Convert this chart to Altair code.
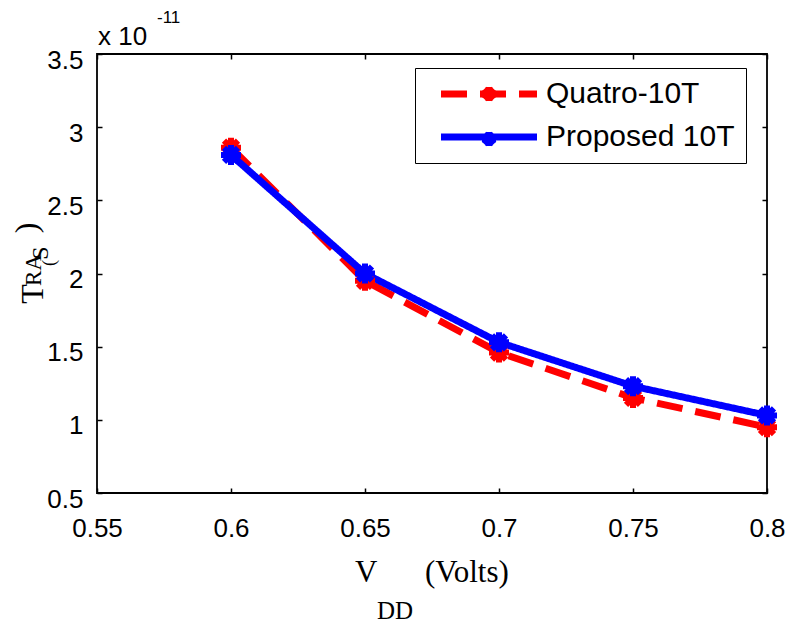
import altair as alt
import pandas as pd

# Supply voltage (V) and read access time (x 1e-11 s) for the two cells
vdd = [0.6, 0.65, 0.7, 0.75, 0.8]
quatro = [2.86, 1.95, 1.46, 1.15, 0.95]
proposed = [2.81, 2.00, 1.53, 1.23, 1.03]
series_names = ["Quatro-10T", "Proposed 10T"]
series_colors = ["#ff0000", "#0000ff"]
series_dash = [[26, 13], [1, 0]]

x_ticks = [0.55, 0.6, 0.65, 0.7, 0.75, 0.8]
y_ticks = [0.5, 1, 1.5, 2, 2.5, 3, 3.5]

df = pd.DataFrame({
    "vdd": vdd + vdd,
    "tra": quatro + proposed,
    "series": [series_names[0]] * len(vdd) + [series_names[1]] * len(vdd),
})

W, H = 670, 439
SANS = "Liberation Sans"
SERIF = "Liberation Serif"
ASTERISK = "M-1,0L1,0M0,-1L0,1M-0.7,-0.7L0.7,0.7M-0.7,0.7L0.7,-0.7"
# legend glyphs: drawn large from a small nominal symbol size so rows stay compact
LEGEND_STROKE = "M0,0L32,0"
LEGEND_ASTERISK = "M-4,0L4,0M0,-4L0,4M-2.8,-2.8L2.8,2.8M-2.8,2.8L2.8,-2.8"

x_scale = alt.Scale(domain=[0.55, 0.8], nice=False, zero=False)
y_scale = alt.Scale(domain=[0.5, 3.5], nice=False, zero=False)

def axis(orient, labels=True, pad=0, loff=0):
    kw = dict(orient=orient, values=x_ticks if orient in ("top", "bottom") else y_ticks,
              format="~g", title=None, domain=False, grid=False, offset=-5,
              tickSize=5, tickWidth=1.5, tickColor="black", labels=labels,
              labelFont=SANS, labelFontSize=26, labelColor="black",
              labelOverlap=False, labelBound=False, labelFlush=False)
    if labels:
        kw.update(labelPadding=pad)
        if loff:
            kw.update(labelOffset=loff)
    return alt.Axis(**kw)

legend_common = dict(
    title=None, orient="none", legendY=14,
    labelFont=SANS, labelFontSize=30, labelColor="black",
    padding=11, labelLimit=400,
)

line_legend = alt.Legend(
    legendX=318, symbolType=LEGEND_STROKE, symbolSize=36, symbolStrokeWidth=7,
    labelOffset=90, rowPadding=13, strokeColor="black", fillColor="white",
    **legend_common,
)

lines = alt.Chart(df).mark_line(strokeWidth=7).encode(
    x=alt.X("vdd:Q", scale=x_scale, axis=axis("bottom", pad=22)),
    y=alt.Y("tra:Q", scale=y_scale, axis=axis("left", pad=14, loff=6)),
    color=alt.Color("series:N", scale=alt.Scale(domain=series_names, range=series_colors),
                    legend=line_legend),
    strokeDash=alt.StrokeDash("series:N", scale=alt.Scale(domain=series_names, range=series_dash),
                              legend=line_legend),
    detail="series:N",
)

# marker legend sits on top of the line legend and only contributes the glyphs
points = alt.Chart(df).mark_point(
    shape=ASTERISK, size=400, strokeWidth=6, filled=False, opacity=1
).encode(
    x=alt.X("vdd:Q", scale=x_scale, axis=axis("top", labels=False)),
    y=alt.Y("tra:Q", scale=y_scale, axis=axis("right", labels=False)),
    color=alt.Color("series:N", scale=alt.Scale(domain=series_names, range=series_colors),
                    legend=alt.Legend(
                        legendX=366, symbolType=LEGEND_ASTERISK, symbolSize=12.25,
                        symbolStrokeWidth=7, labelExpr="''", labelOffset=10,
                        rowPadding=3, **legend_common)),
)

def label(text, x, y, size, font=SANS, angle=0, align="left", baseline="alphabetic"):
    kw = dict(text=text, font=font, fontSize=size, color="black", align=align, baseline=baseline)
    if angle:
        kw.update(angle=angle)
    return alt.Chart(pd.DataFrame({"t": [text]})).mark_text(**kw).encode(
        x=alt.value(x), y=alt.value(y))

rot = dict(font=SERIF, angle=270, align="center", baseline="middle")
texts = [
    label("x 10", 1, -9, 26),
    label("-11", 60, -31, 17),
    label("V", 258, 528, 31, font=SERIF),
    label("(Volts)", 328, 528, 31, font=SERIF),
    label("DD", 280, 565, 25, font=SERIF),
    label("T", -64, 240, 32, **rot),
    label("RA", -63, 216, 23, **rot),
    label("(", -47, 209, 18, **rot),
    label("S", -56, 199, 24, **rot),
    label(")", -70, 174, 32, **rot),
]

chart = alt.layer(lines, points, *texts).resolve_scale(
    color="independent", strokeDash="independent"
).resolve_axis(x="independent", y="independent").properties(
    width=W, height=H,
    padding={"left": 97, "top": 54, "right": 23, "bottom": 130},
    autosize=alt.AutoSizeParams(type="none"),
    background="white",
).configure_view(stroke="black", strokeWidth=1.8)

chart.save("out.html", embed_options={"renderer": "svg", "actions": False})
